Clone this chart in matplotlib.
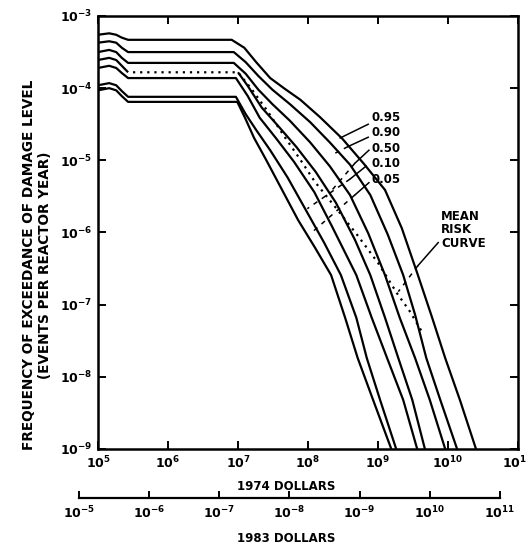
import numpy as np
import matplotlib
matplotlib.use('Agg')
import matplotlib.pyplot as plt

# values are log10 exponents
# x: damage level in 1974 dollars, y: exceedance frequency (events per reactor year)
left_x = [5.00, 5.16, 5.26, 5.34, 5.43]

c1_x = left_x + [6.91, 7.09, 7.26, 7.46, 7.67, 7.89, 8.17, 8.49, 8.80, 9.10, 9.34, 9.57, 9.77, 9.96, 10.17, 10.40]
c1_y = [-3.26, -3.24, -3.26, -3.30, -3.33,
        -3.33, -3.44, -3.64, -3.86, -4.01, -4.16, -4.40, -4.70, -5.05, -5.41, -5.94, -6.59, -7.17, -7.74, -8.32, -9.00]

c2_x = left_x + [6.94, 7.11, 7.29, 7.49, 7.74, 8.03, 8.31, 8.60, 8.89, 9.14, 9.36, 9.53, 9.69, 9.89, 10.13]
c2_y = [-3.37, -3.35, -3.37, -3.44, -3.50,
        -3.50, -3.64, -3.83, -4.02, -4.22, -4.47, -4.75, -5.06, -5.48, -6.03, -6.59, -7.14, -7.74, -8.32, -9.00]

c3_x = left_x + [6.94, 7.11, 7.29, 7.49, 7.74, 8.03, 8.31, 8.60, 8.86, 9.10, 9.31, 9.53, 9.74, 9.96]
c3_y = [-3.50, -3.47, -3.50, -3.58, -3.65,
        -3.65, -3.80, -4.02, -4.22, -4.45, -4.75, -5.08, -5.48, -6.01, -6.59, -7.18, -7.74, -8.32, -9.00]

# curve 4 is solid at the start, then runs under the dotted mean, then solid again
c4a_x = left_x
c4a_y = [-3.61, -3.58, -3.61, -3.69, -3.78]
c4b_x = [7.00, 7.14, 7.34, 7.57, 7.83, 8.11, 8.40, 8.67, 8.89, 9.10, 9.29, 9.49, 9.67]
c4b_y = [-3.78, -3.97, -4.27, -4.52, -4.81, -5.16, -5.59, -6.10, -6.59, -7.18, -7.74, -8.32, -9.00]

c5_x = left_x + [6.97, 7.14, 7.31, 7.54, 7.80, 8.09, 8.34, 8.51, 8.69, 8.91, 9.13, 9.36, 9.56]
c5_y = [-3.72, -3.69, -3.72, -3.79, -3.86,
        -3.86, -4.11, -4.41, -4.69, -5.02, -5.44, -5.91, -6.24, -6.59, -7.18, -7.74, -8.32, -9.00]

c6_x = left_x + [6.97, 7.11, 7.26, 7.46, 7.71, 7.97, 8.23, 8.47, 8.69, 8.84, 9.03, 9.26]
c6_y = [-3.96, -3.93, -3.96, -4.04, -4.12,
        -4.12, -4.36, -4.58, -4.86, -5.24, -5.69, -6.14, -6.59, -7.18, -7.74, -8.32, -9.00]

c7_x = left_x + [6.99, 7.10, 7.23, 7.40, 7.63, 7.86, 8.10, 8.33, 8.53, 8.71, 8.93, 9.19]
c7_y = [-4.03, -4.00, -4.03, -4.11, -4.19,
        -4.19, -4.41, -4.69, -4.99, -5.41, -5.83, -6.21, -6.59, -7.18, -7.74, -8.32, -9.00]

mean_x = [5.50, 7.00, 7.20, 7.43, 7.67, 7.89, 8.10, 8.40, 8.70, 9.00, 9.27, 9.46, 9.63]
mean_y = [-3.78, -3.78, -4.02, -4.33, -4.68, -4.99, -5.30, -5.66, -6.03, -6.42, -6.84, -7.10, -7.38]

# fractile labels: text, y of label, leader (solid part start/end, broken continuation end)
frac_labels = ['0.95', '0.90', '0.50', '0.10', '0.05']
frac_text_y = [-4.41, -4.62, -4.83, -5.04, -5.27]
lead_start = [(8.86, -4.50), (8.86, -4.68), (8.87, -4.86), (8.83, -5.08), (8.87, -5.31)]
lead_mid = [(8.46, -4.69), (8.57, -4.81), (8.67, -5.04), (8.60, -5.26), (8.67, -5.48)]
lead_end = [(8.46, -4.69), (8.39, -4.90), (8.31, -5.45), (7.99, -5.67), (8.03, -6.02)]
mean_lead = [(9.86, -6.14), (9.57, -6.46), (9.29, -6.82)]

y_ticks = [-9, -8, -7, -6, -5, -4, -3]
x_ticks = [5, 6, 7, 8, 9, 10, 11]
x83_labels = ['-5', '-6', '-7', '-8', '-9', '10', '11']

W, H = 526, 549
fig = plt.figure(figsize=(W / 100, H / 100), dpi=100)
ax = fig.add_axes([98 / W, 1 - 449 / H, 420 / W, 433 / H])

lw = 1.6
for xs, ys in [(c1_x, c1_y), (c2_x, c2_y), (c3_x, c3_y), (c4a_x, c4a_y), (c4b_x, c4b_y),
               (c5_x, c5_y), (c6_x, c6_y), (c7_x, c7_y)]:
    ax.plot(10 ** np.array(xs), 10 ** np.array(ys), color='black', lw=lw, solid_capstyle='butt')
ax.plot(10 ** np.array(mean_x), 10 ** np.array(mean_y), color='black', lw=1.6,
        linestyle=(0, (1, 2.2)))

ax.set_xscale('log')
ax.set_yscale('log')
ax.set_xlim(1e5, 1e11)
ax.set_ylim(1e-9, 1e-3)
ax.minorticks_off()
ax.set_xticks([10.0 ** k for k in x_ticks])
ax.set_xticklabels([r'$\mathbf{10^{%d}}$' % k for k in x_ticks])
ax.set_yticks([10.0 ** k for k in y_ticks])
ax.set_yticklabels([r'$\mathbf{10^{%d}}$' % k for k in y_ticks])
ax.tick_params(which='major', direction='in', length=6, width=1.4, top=True, right=True,
               labelsize=9, pad=4)
for s in ax.spines.values():
    s.set_linewidth(1.8)


def leader(p0, p1, p2):
    ax.plot([10 ** p0[0], 10 ** p1[0]], [10 ** p0[1], 10 ** p1[1]], color='black', lw=1.1)
    if p2 != p1:
        ax.plot([10 ** p1[0], 10 ** p2[0]], [10 ** p1[1], 10 ** p2[1]], color='black', lw=1.1,
                linestyle=(0, (3, 3.5)))


for lab, ty, p0, p1, p2 in zip(frac_labels, frac_text_y, lead_start, lead_mid, lead_end):
    ax.text(10 ** 8.90, 10 ** ty, lab, fontsize=8.5, fontweight='bold', ha='left', va='center')
    leader(p0, p1, p2)

ax.text(10 ** 9.90, 10 ** -5.96, 'MEAN\nRISK\nCURVE', fontsize=8.5, fontweight='bold',
        ha='left', va='center', linespacing=1.05)
leader(*mean_lead)

# second scale: 1983 dollars
ax2 = fig.add_axes([79 / W, 1 - 498 / H, 421 / W, 0.0])
ax2.set_xscale('log')
ax2.set_xlim(1e5, 1e11)
ax2.minorticks_off()
ax2.set_xticks([10.0 ** k for k in x_ticks])
ax2.set_xticklabels([r'$\mathbf{10^{%s}}$' % s for s in x83_labels])
ax2.set_yticks([])
ax2.patch.set_visible(False)
for side in ['top', 'left', 'right']:
    ax2.spines[side].set_visible(False)
ax2.spines['bottom'].set_linewidth(1.6)
ax2.tick_params(axis='x', direction='in', length=5, width=1.4, labelsize=9, pad=5)

fig.text(286 / W, 1 - 487 / H, '1974 DOLLARS', fontsize=8.5, fontweight='bold', ha='center', va='center')
fig.text(286 / W, 1 - 538 / H, '1983 DOLLARS', fontsize=8.5, fontweight='bold', ha='center', va='center')
fig.text(29 / W, 1 - 265 / H, 'FREQUENCY OF EXCEEDANCE OF DAMAGE LEVEL', rotation=90,
         fontsize=9.8, fontweight='bold', ha='center', va='center')
fig.text(45 / W, 1 - 265 / H, '(EVENTS PER REACTOR YEAR)', rotation=90,
         fontsize=9.8, fontweight='bold', ha='center', va='center')

fig.savefig('out.png', dpi=100)
